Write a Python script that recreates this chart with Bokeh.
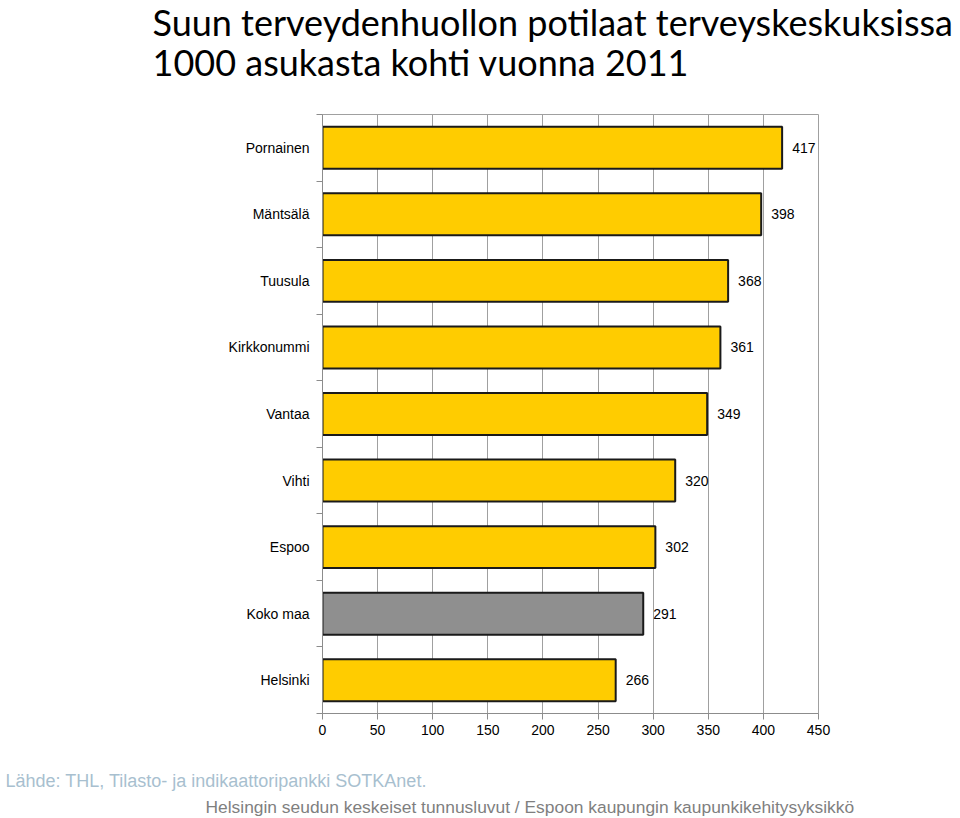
from bokeh.plotting import figure
from bokeh.models import Range1d, FixedTicker, Title, ColumnDataSource
from bokeh.embed import file_html
from bokeh.resources import INLINE
from bokeh.core.properties import value

categories = ["Pornainen", "Mäntsälä", "Tuusula", "Kirkkonummi", "Vantaa",
              "Vihti", "Espoo", "Koko maa", "Helsinki"]
values = [417, 398, 368, 361, 349, 320, 302, 291, 266]
x_ticks = [0, 50, 100, 150, 200, 250, 300, 350, 400, 450]
title_lines = ["Suun terveydenhuollon potilaat terveyskeskuksissa",
               "1000 asukasta kohti vuonna 2011"]
source_text = "Lähde: THL, Tilasto- ja indikaattoripankki SOTKAnet."
credit_text = "Helsingin seudun keskeiset tunnusluvut / Espoon kaupungin kaupunkikehitysyksikkö"

GOLD = "#FFCC00"
GRAY = "#8F8F8F"
colors = [GRAY if c == "Koko maa" else GOLD for c in categories]
pos = list(range(len(categories)))

src = ColumnDataSource(dict(y=pos, v=values, c=colors, t=[str(v) for v in values]))

W, H = 960, 818
p = figure(width=W, height=H, output_backend="svg", toolbar_location=None,
           x_range=Range1d(0, 450), y_range=Range1d(len(categories) - 0.5, -0.5),
           min_border_left=322, min_border_right=142, min_border_top=0,
           min_border_bottom=0)
p.outline_line_color = "#a0a0a0"
p.outline_line_width = 1
p.background_fill_color = "white"
p.border_fill_color = "white"

p.hbar(y="y", left=0, right="v", height=0.63, fill_color="c",
       line_color="#1a1a1a", line_width=2, source=src)
p.text(x="v", y="y", text="t", x_offset=10, text_baseline="middle",
       text_font=value("Liberation Sans"), text_font_size="14px",
       text_color="black", source=src)

# x axis
p.xaxis.ticker = FixedTicker(ticks=x_ticks)
p.xaxis.axis_line_color = "#8c8c8c"
p.xaxis.major_tick_line_color = "#8c8c8c"
p.xaxis.major_tick_out = 6
p.xaxis.major_tick_in = 0
p.xaxis.minor_tick_line_color = None
p.xaxis.major_label_text_font = "Liberation Sans"
p.xaxis.major_label_text_font_size = "14px"
p.xaxis.major_label_text_color = "black"
p.xaxis.major_label_standoff = 5

# y axis
boundaries = [i - 0.5 for i in range(len(categories) + 1)]
p.yaxis.ticker = FixedTicker(ticks=pos, minor_ticks=boundaries)
p.yaxis.major_label_overrides = {i: c for i, c in enumerate(categories)}
p.yaxis.axis_line_color = "#8c8c8c"
p.yaxis.major_tick_line_color = None
p.yaxis.major_tick_out = 0
p.yaxis.major_tick_in = 0
p.yaxis.minor_tick_line_color = "#8c8c8c"
p.yaxis.minor_tick_out = 6
p.yaxis.minor_tick_in = 0
p.yaxis.major_label_text_font = "Liberation Sans"
p.yaxis.major_label_text_font_size = "14px"
p.yaxis.major_label_text_color = "black"
p.yaxis.major_label_standoff = 7

p.ygrid.grid_line_color = None
p.xgrid.grid_line_color = "#a0a0a0"
p.xgrid.grid_line_width = 1

# Titles above: the one added first sits closest to the frame
top_spacer = Title(text=" ", text_font="Lato", text_font_size="10px", standoff=20)
t2 = Title(text=title_lines[1], align="left", offset=-170, standoff=-7.4,
           text_font="Lato", text_font_size="36px", text_font_style="normal",
           text_color="black")
t1 = Title(text=title_lines[0], align="left", offset=-170, standoff=-5,
           text_font="Lato", text_font_size="36px", text_font_style="normal",
           text_color="black")
p.add_layout(top_spacer, "above")
p.add_layout(t2, "above")
p.add_layout(t1, "above")

bottom_spacer = Title(text=" ", text_font="Liberation Sans", text_font_size="10px",
                      standoff=16)
f1 = Title(text=source_text, align="left", offset=-317, standoff=4,
           text_font="Liberation Sans", text_font_size="18px",
           text_font_style="normal", text_color="#a8bfcf")
f2 = Title(text=credit_text, align="left", offset=-117, standoff=4,
           text_font="Liberation Sans", text_font_size="17.4px",
           text_font_style="normal", text_color="#7f7f7f")
p.add_layout(bottom_spacer, "below")
p.add_layout(f1, "below")
p.add_layout(f2, "below")

open("out.html", "w").write(file_html(p, INLINE))
